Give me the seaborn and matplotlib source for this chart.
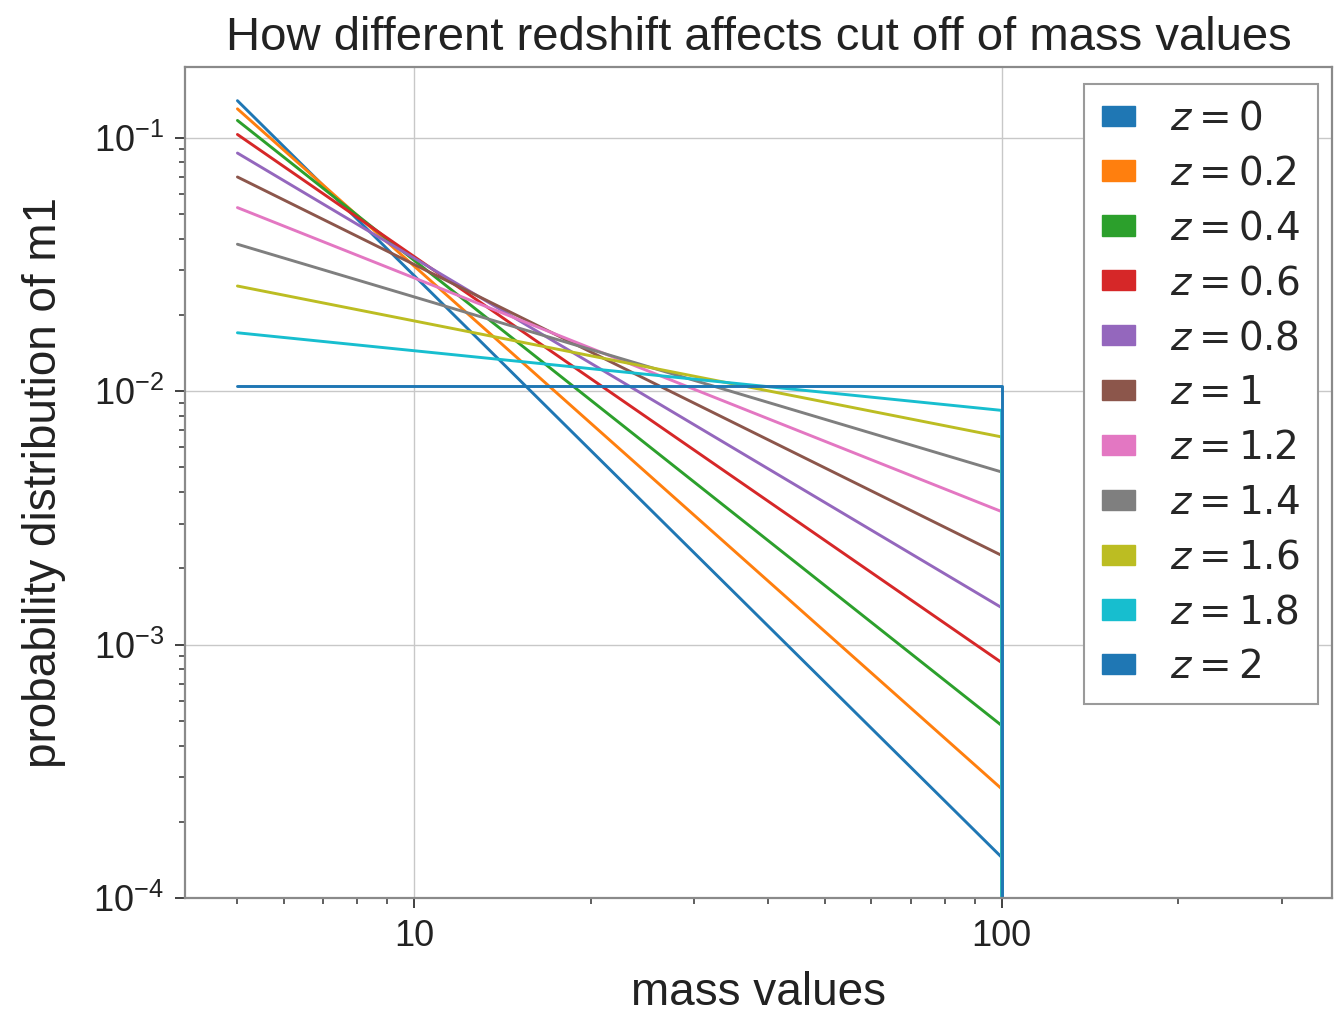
import numpy as np
import pandas as pd
import matplotlib
matplotlib.use("Agg")
import matplotlib.pyplot as plt
import matplotlib.patches as mpatches
import seaborn as sns

# ---- data ----
redshifts = [0, 0.2, 0.4, 0.6, 0.8, 1, 1.2, 1.4, 1.6, 1.8, 2]
mass_min = 5.0
mass_max = 100.0
mass_tail = 300.0
p_at_min = [0.140, 0.130, 0.117, 0.103, 0.087, 0.070, 0.053, 0.038, 0.026, 0.017, 0.0105]
p_at_max = [1.45e-4, 2.7e-4, 4.8e-4, 8.5e-4, 1.4e-3, 2.25e-3, 3.35e-3, 4.8e-3, 6.6e-3, 8.4e-3, 0.0105]

labels = [f"$z={z:g}$" for z in redshifts]

rows = []
for lab, p0, p1 in zip(labels, p_at_min, p_at_max):
    xs = [mass_min, mass_max, mass_max, mass_tail]
    ys = [p0, p1, 0.0, 0.0]
    for x, y in zip(xs, ys):
        rows.append({"mass": x, "p": y, "z": lab})
df = pd.DataFrame(rows)

sns.set_theme(style="ticks")
plt.rcParams["font.family"] = ["Liberation Sans", "DejaVu Sans"]

base = sns.color_palette("tab10", 10)
palette = [base[i % 10] for i in range(len(labels))]

fig = plt.figure(figsize=(13.44, 10.16), dpi=100)
ax = fig.add_axes([0.1376, 0.116, 0.8534, 0.818])
ax.set_xscale("log")
ax.set_yscale("log", nonpositive="clip")

for lab, col in zip(labels, palette):
    sub = df[df["z"] == lab]
    sns.lineplot(data=sub, x="mass", y="p", sort=False, estimator=None,
                 color=col, lw=2.1, ax=ax, legend=False)

ax.set_xlim(4.07, 365)
ax.set_ylim(1e-4, 0.19)

ax.grid(True, which="major", color="#c8c8c8", lw=1.0)
ax.set_axisbelow(True)
for s in ax.spines.values():
    s.set_color("#8a8a8a")
    s.set_linewidth(1.6)

ax.tick_params(axis="both", which="major", direction="out", length=7, width=1.3,
               color="#333333", labelsize=26, labelcolor="#222222", pad=8)
ax.tick_params(axis="both", which="minor", direction="out", length=4, width=1.1,
               color="#333333")
ax.xaxis.set_major_formatter(matplotlib.ticker.FuncFormatter(lambda v, p: f"{v:g}"))
ax.xaxis.set_minor_formatter(matplotlib.ticker.NullFormatter())

ax.set_xlabel("mass values", fontsize=33, color="#222222", labelpad=12)
ax.set_ylabel("probability distribution of m1", fontsize=33, color="#222222", labelpad=20)
ax.set_title("How different redshift affects cut off of mass values", fontsize=34,
             color="#222222", pad=12)

handles = [mpatches.Patch(color=c, label=l) for c, l in zip(palette, labels)]
leg = ax.legend(handles=handles, loc="upper right", fontsize=28, frameon=True,
                fancybox=False, edgecolor="#9a9a9a", framealpha=1.0,
                handlelength=0.87, handleheight=0.42, handletextpad=0.9,
                labelspacing=0.485, borderpad=0.45, borderaxespad=0,
                bbox_to_anchor=(0.9878, 0.9795))
leg.get_frame().set_linewidth(1.5)

fig.savefig("out.png", dpi=100)
